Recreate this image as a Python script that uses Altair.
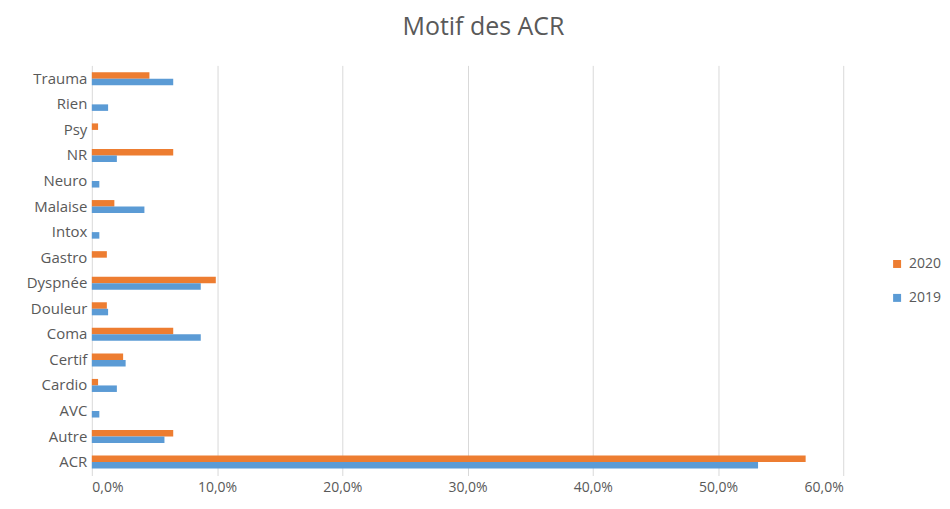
import altair as alt
import pandas as pd

categories = ["Trauma", "Rien", "Psy", "NR", "Neuro", "Malaise", "Intox", "Gastro",
              "Dyspnée", "Douleur", "Coma", "Certif", "Cardio", "AVC", "Autre", "ACR"]
values_2020 = [0.046, 0.0, 0.005, 0.065, 0.0, 0.018, 0.0, 0.012,
               0.099, 0.012, 0.065, 0.025, 0.005, 0.0, 0.065, 0.570]
values_2019 = [0.065, 0.013, 0.0, 0.020, 0.006, 0.042, 0.006, 0.0,
               0.087, 0.013, 0.087, 0.027, 0.020, 0.006, 0.058, 0.532]
years = ["2020", "2019"]
colors = ["#ED7D31", "#5B9BD5"]
x_ticks = [0, 0.1, 0.2, 0.3, 0.4, 0.5, 0.6]

rows = []
for c, v20, v19 in zip(categories, values_2020, values_2019):
    rows.append({"cat": c, "year": "2020", "value": v20})
    rows.append({"cat": c, "year": "2019", "value": v19})
df = pd.DataFrame(rows)

GRAY = "#595959"
FONT = "Open Sans"

chart = alt.Chart(df).mark_bar().encode(
    y=alt.Y("cat:N", sort=categories,
            scale=alt.Scale(paddingInner=0.49, paddingOuter=0.27),
            axis=alt.Axis(title=None, ticks=False, domain=False, labelPadding=5,
                          labelFontSize=15, labelColor=GRAY, labelFont=FONT,
                          minExtent=79, maxExtent=79)),
    yOffset=alt.YOffset("year:N", sort=years),
    x=alt.X("value:Q", scale=alt.Scale(domain=[0, 0.6], nice=False),
            axis=alt.Axis(title=None, values=x_ticks, ticks=False, domain=False,
                          grid=True, gridColor="#d9d9d9", gridWidth=1,
                          labelExpr="replace(format(datum.value, '.1%'), '.', ',')",
                          labelFontSize=14, labelColor=GRAY, labelFont=FONT,
                          labelPadding=5)),
    color=alt.Color("year:N", scale=alt.Scale(domain=years, range=colors),
                    legend=alt.Legend(title=None, orient="none", legendX=800, legendY=192,
                                      symbolType="square", symbolSize=64,
                                      symbolStrokeWidth=0, labelOffset=5,
                                      labelFontSize=14, labelColor=GRAY, labelFont=FONT,
                                      rowPadding=20, padding=0)),
).properties(
    width=753,
    height=411,
    padding={"left": 5, "top": 7, "right": 0, "bottom": 0},
    title=alt.TitleParams("Motif des ACR", fontSize=25, color=GRAY, font=FONT,
                          fontWeight="normal", offset=25, anchor="middle", dx=16),
).configure(font=FONT).configure_view(stroke=None)

chart.save("out.html", embed_options={"renderer": "svg", "actions": False})
